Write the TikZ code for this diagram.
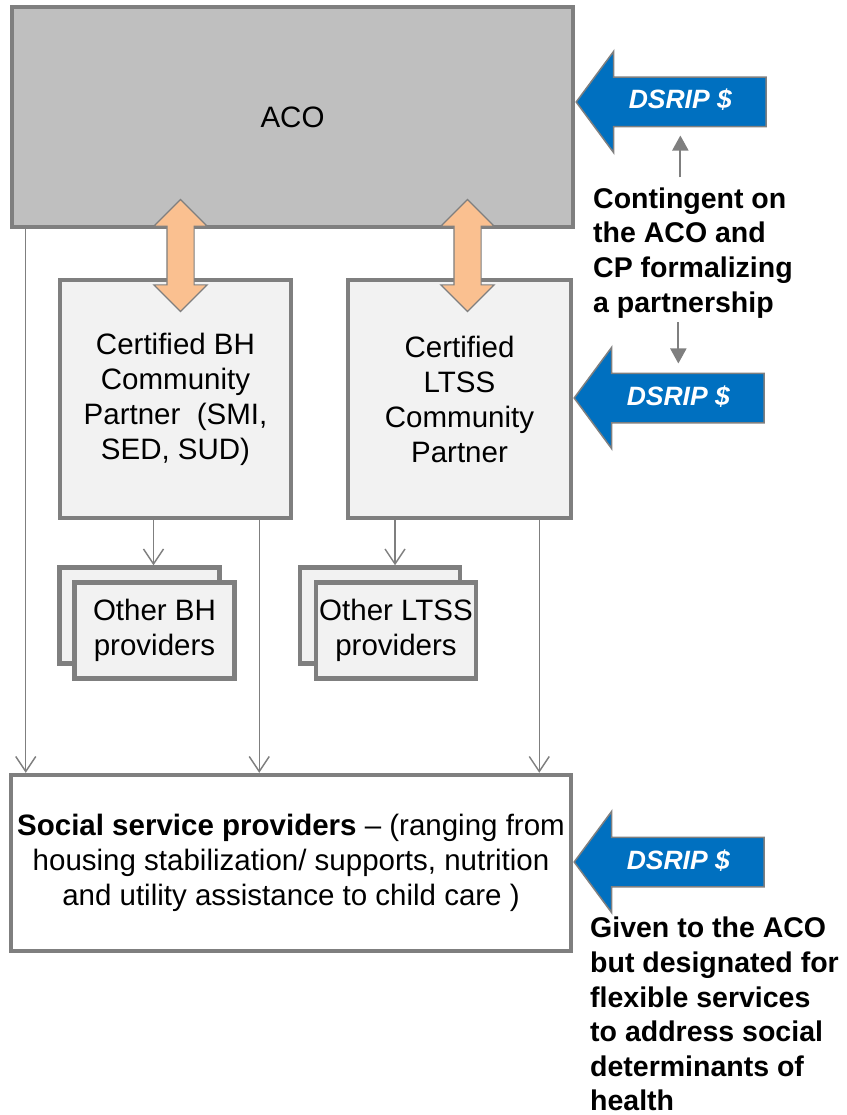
\documentclass[tikz,border=0pt]{standalone}
\usepackage{fontspec}
\setmainfont{Liberation Sans}
\usetikzlibrary{shapes,arrows.meta,calc}
\definecolor{acogray}{HTML}{BFBFBF}
\definecolor{edgegray}{HTML}{7F7F7F}
\definecolor{cpgray}{HTML}{F2F2F2}
\definecolor{peach}{HTML}{FAC090}
\definecolor{dsripblue}{HTML}{0070C0}
\tikzset{block/.style={draw=edgegray, line width=4.5pt, align=center, inner sep=0pt, font=\fontsize{29.5}{35}\selectfont},
         partner/.style={block, fill=cpgray, minimum height=238pt},
         other/.style={block, fill=cpgray, minimum width=160pt, minimum height=96pt},
         cplink/.style={double arrow, draw=edgegray, line width=1.2pt, fill=peach, rotate=90, inner sep=13pt,
                        minimum height=112pt, minimum width=52pt, double arrow head extend=13pt, double arrow head indent=0pt},
         dsrip/.style={single arrow, draw=edgegray, line width=1.5pt, fill=dsripblue, text=white, shape border rotate=180,
                       minimum height=190pt, minimum width=100pt, single arrow head extend=26pt, single arrow tip angle=107,
                       inner xsep=0pt, inner ysep=12pt, text height=19pt, text depth=5pt,
                       font=\fontsize{26.5}{30}\selectfont\bfseries\itshape},
         note/.style={align=left, inner sep=0pt, font=\fontsize{28.5}{34.6}\selectfont\bfseries},
         link/.style={draw=edgegray, line width=1.4pt, -{Straight Barb[length=15pt,width=20pt]}},
         small/.style={draw=edgegray, line width=2pt, -{Triangle[length=15pt,width=16pt]}}}
\def\cpy{399}
\def\othery{615.5}

\begin{document}
\begin{tikzpicture}[x=1pt, y=-1pt]
\useasboundingbox (0,0) rectangle (846,1115);
\node (aco) [block, fill=acogray, minimum width=561pt, minimum height=220pt] at (292.5,117) {ACO};

\node (bh) [partner, minimum width=231pt] at (175.5,\cpy) {Certified BH\\Community\\Partner~~(SMI,\\SED, SUD)};
\node (ltss) [partner, minimum width=223pt] at (459.5,\cpy) {Certified\\LTSS\\Community\\Partner};

% stacked provider boxes
\node (bhback) [other] at (139.5,\othery) {};
\path (bhback)+(15,15) node (bhprov) [other] {Other BH\\providers};
\node (ltssback) [other] at (380,\othery) {};
\path (ltssback)+(16,15) node (ltssprov) [other] {Other LTSS\\providers};

\node (social) [block, fill=white, minimum width=560pt, minimum height=176pt] at (291,863)
  {\textbf{Social service providers} -- (ranging from\\housing stabilization/ supports, nutrition\\and utility assistance to child care )};

% Draw connections between nodes
\draw [link] ([xshift=16pt]aco.south west) -- ([xshift=16pt]aco.south west |- social.north);
\draw [link] ([xshift=-34pt]bh.south east) -- ([xshift=-34pt]bh.south east |- social.north);
\draw [link] ([xshift=-34pt]ltss.south east) -- ([xshift=-34pt]ltss.south east |- social.north);
\draw [link] ([xshift=14pt]bhback.north |- bh.south) -- ([xshift=14pt]bhback.north);
\draw [link] ([xshift=15pt]ltssback.north |- ltss.south) -- ([xshift=15pt]ltssback.north);

\node (bhlink) [cplink] at ($(aco.south -| bh.north)!0.5!(bh.north)+(5,2)$) {};
\node (ltsslink) [cplink] at ($(aco.south -| ltss.north)!0.5!(ltss.north)+(8,2)$) {};

% funding arrows and notes
\path (aco.east)+(0,-15) node (fund1) [dsrip, anchor=tip] {DSRIP \$};
\path (ltss.east)+(0,-1) node (fund2) [dsrip, anchor=tip] {DSRIP \$};
\path (social.east)+(0,-1) node (fund3) [dsrip, anchor=tip] {DSRIP \$};
\node (cond) [note, anchor=north west] at (593,187.5) {Contingent on\\the ACO and\\CP formalizing\\a partnership};
\node (given) [note, anchor=north west] at (590,917) {Given to the ACO\\but designated for\\flexible services\\to address social\\determinants of\\health};
\draw [small] ([yshift=10pt]cond.north -| fund1.south) -- ([yshift=-8pt]fund1.south);
\draw [small] ([yshift=-4pt]cond.south -| fund2.north) -- ([yshift=9pt]fund2.north);
\end{tikzpicture}
\end{document}
